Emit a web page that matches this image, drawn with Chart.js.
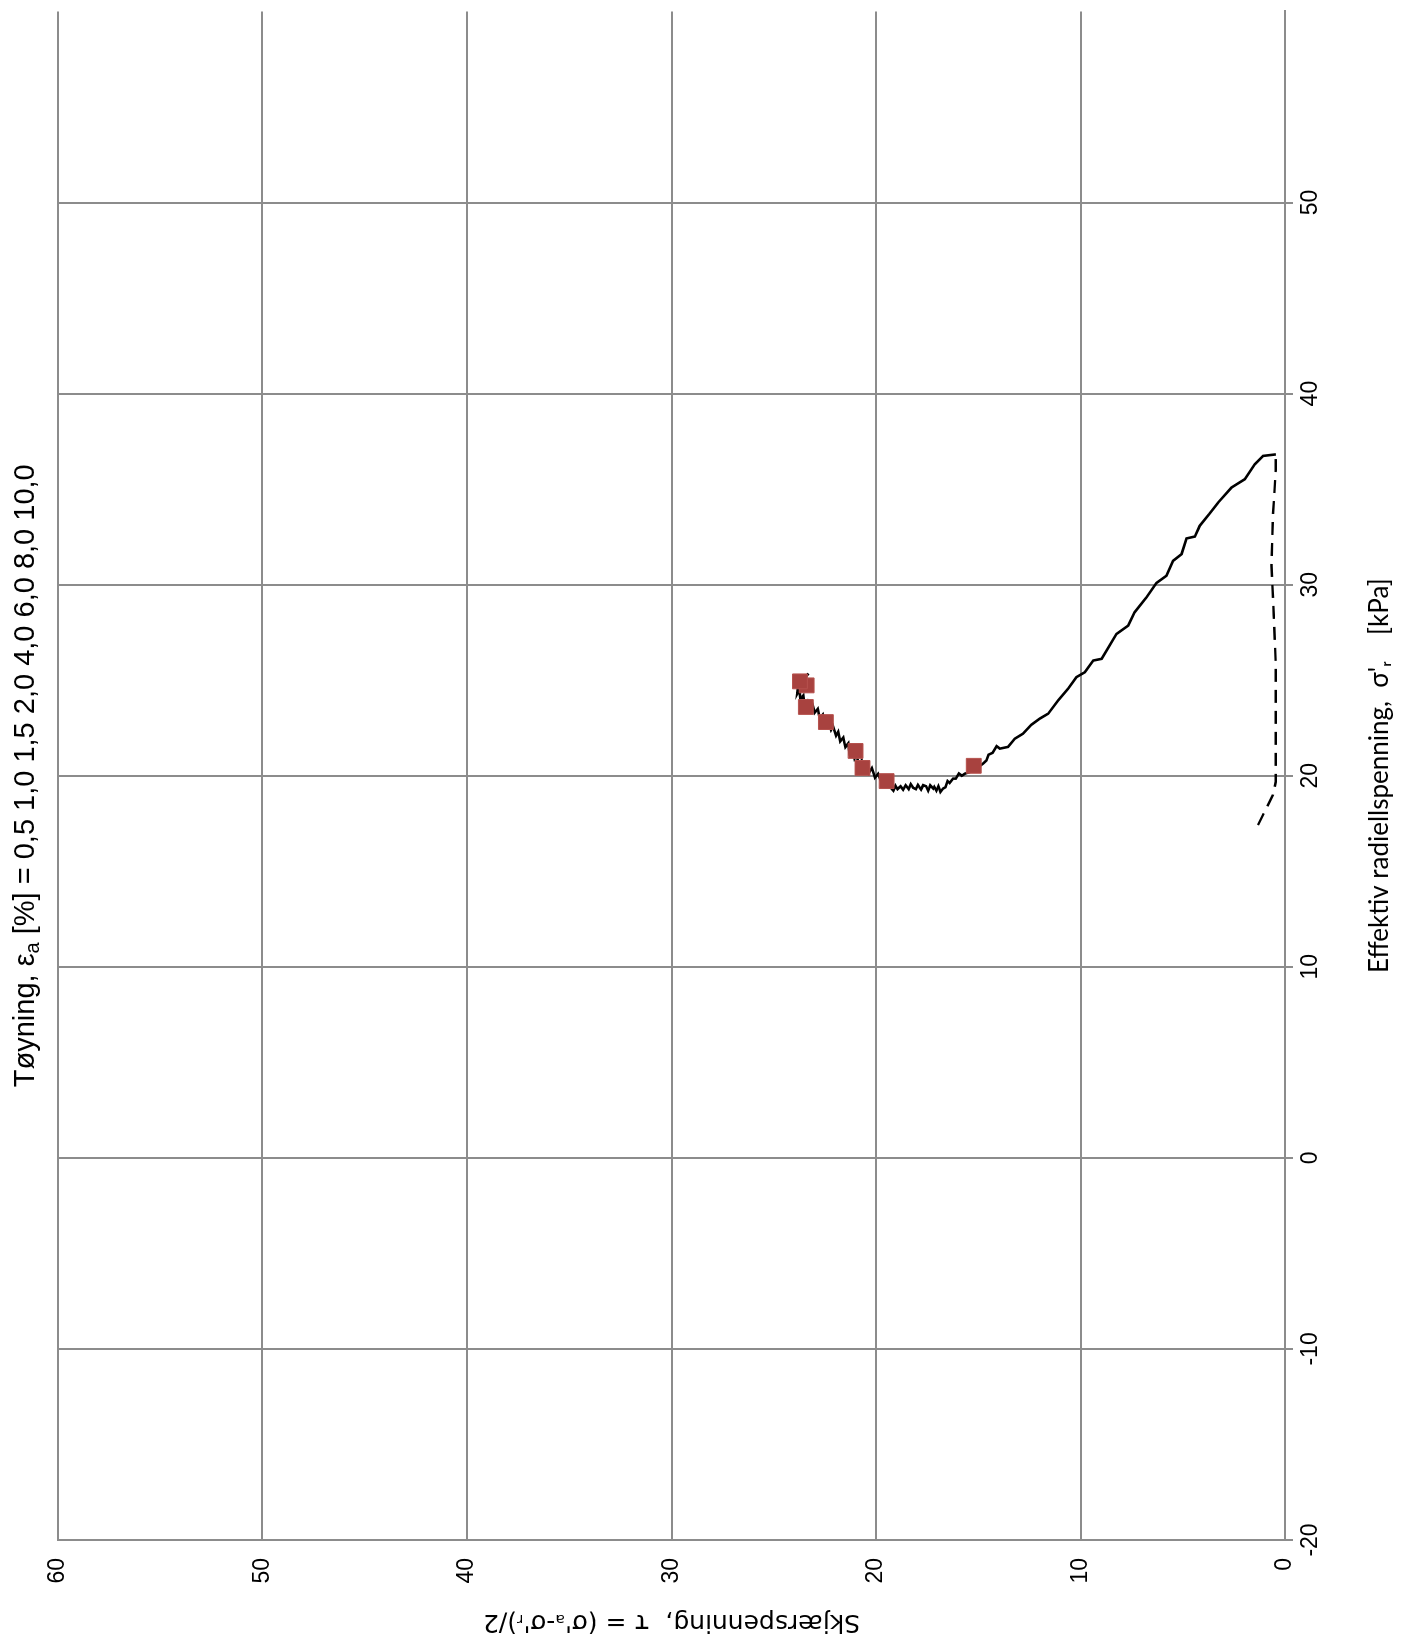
<!DOCTYPE html>
<html>
<head>
<meta charset="utf-8">
<script src="https://cdn.jsdelivr.net/npm/chart.js@4.4.0/dist/chart.umd.min.js"></script>
<style>
html, body { margin: 0; padding: 0; background: #fff; }
body { width: 1401px; height: 1638px; overflow: hidden; position: relative; }
/* the chart is drawn upright and then turned a quarter turn anticlockwise */
#wrap { position: absolute; left: 0; top: 0; width: 1638px; height: 1401px;
        transform-origin: 0 0; transform: translate(0px, 1638px) rotate(-90deg); }
</style>
</head>
<body>
<div id="wrap"><canvas id="myChart" width="1638" height="1401"></canvas></div>
<script>
// effective radial stress (x) and shear stress (y), kPa
var sigmaSolid = [36.82, 36.74, 36.3, 35.52, 35.08, 34.3, 33.7, 33.08, 32.52, 32.42, 31.6, 31.25, 30.47, 30.09,
    29.34, 28.56, 27.86, 27.42, 26.82, 26.12, 26.03, 25.42, 25.16, 24.55, 23.95, 23.25, 22.99, 22.67, 22.2, 21.94, 21.51,
    21.42, 21.55, 21.2, 21.1, 20.8, 20.64, 20.45, 20.55, 20.2, 20.11, 20.0, 20.12, 19.85, 19.85, 19.62, 19.72, 19.4, 19.33,
    19.15, 19.45, 19.22, 19.42, 19.33, 19.5, 19.22, 19.45, 19.51, 19.28, 19.52, 19.3, 19.37, 19.56, 19.3, 19.5, 19.27,
    19.45, 19.3, 19.48, 19.22, 19.4,
    19.5, 19.9, 19.6, 20.1, 19.9, 20.4, 20.15, 20.6, 20.35, 20.8, 20.6, 21.1, 20.9, 21.4, 21.2, 21.7, 21.5, 22.0, 21.8,
    22.3, 22.1, 22.6, 22.4, 22.9, 22.7, 23.2, 23.0, 23.5, 23.3, 23.7, 23.5, 23.9, 23.7, 24.2, 24.0, 24.5, 24.3, 24.8,
    24.6, 25.0, 25.1, 25.35];
var tauSolid = [0.45, 1.07, 1.48, 1.97, 2.62, 3.27, 3.7, 4.17, 4.41, 4.82, 5.06, 5.47, 5.8, 6.29,
    6.77, 7.35, 7.67, 8.24, 8.57, 8.97, 9.38, 9.79, 10.2, 10.61, 11.09, 11.58, 11.99, 12.4, 12.81, 13.21, 13.54,
    13.94, 14.1, 14.3, 14.5, 14.6, 14.76, 15.0, 15.15, 15.4, 15.65, 15.8, 15.95, 16.1, 16.23, 16.4, 16.5, 16.6, 16.72,
    16.85, 16.95, 17.05, 17.15, 17.2, 17.35, 17.45, 17.55, 17.69, 17.8, 17.95, 18.05, 18.18, 18.3, 18.4, 18.55, 18.67,
    18.8, 18.95, 19.05, 19.15, 19.3,
    19.35, 19.6, 19.7, 19.9, 20.05, 20.2, 20.35, 20.45, 20.6, 20.7, 20.85, 20.95, 21.05, 21.15, 21.3, 21.35, 21.5, 21.6, 21.75,
    21.85, 21.95, 22.1, 22.2, 22.35, 22.5, 22.6, 22.75, 22.85, 23.0, 23.1, 23.25, 23.35, 23.5, 23.55, 23.7, 23.75, 23.85, 23.8,
    23.9, 23.7, 23.5, 23.3];

var sigmaDashed = [17.42, 18.99, 19.68, 25.8, 28.4, 30.99, 33.6, 36.0, 36.82];
var tauDashed = [1.32, 0.59, 0.45, 0.45, 0.55, 0.66, 0.59, 0.45, 0.45];

// points at axial strain 0.5 ... 10 %
var strainLabels = ['0,5', '1,0', '1,5', '2,0', '4,0', '6,0', '8,0', '10,0'];
var sigmaMarkers = [20.52, 19.72, 20.41, 21.3, 22.81, 23.6, 24.73, 24.94];
var tauMarkers = [15.22, 19.48, 20.66, 21.0, 22.45, 23.43, 23.39, 23.72];

function toPoints(xs, ys) {
    return xs.map(function (x, i) { return { x: x, y: ys[i] }; });
}

var gridColor = '#8c8c8c';

// title with a subscript a, centred over the plot area
var titlePlugin = {
    id: 'topTitle',
    afterDraw: function (chart) {
        var c = chart.ctx, a = chart.chartArea;
        var parts = [['Tøyning, ε', 29, 0], ['a', 20, 5], [' [%] = ' + strainLabels.join(' '), 29, 0]];
        var total = 0;
        parts.forEach(function (p) { c.font = p[1] + 'px "Liberation Sans", Arial'; total += c.measureText(p[0]).width; });
        var x = (a.left + a.right) / 2 - total / 2;
        c.save();
        c.fillStyle = '#000';
        c.textBaseline = 'alphabetic';
        c.textAlign = 'left';
        parts.forEach(function (p) {
            c.font = p[1] + 'px "Liberation Sans", Arial';
            c.fillText(p[0], x, 34 + p[2]);
            x += c.measureText(p[0]).width;
        });
        c.restore();
    }
};

var element = document.getElementById('myChart').getContext('2d');

var chart = new Chart(element, {
    type: 'scatter',
    data: {
        datasets: [{
            label: 'Tøyning',
            data: toPoints(sigmaMarkers, tauMarkers),
            showLine: false,
            pointStyle: 'rect',
            pointRadius: 10.5,
            backgroundColor: '#a8423f',
            borderColor: '#b6524e',
            borderWidth: 1,
            order: 0
        }, {
            label: 'Skjærfase',
            data: toPoints(sigmaSolid, tauSolid),
            showLine: true,
            borderColor: '#000',
            borderWidth: 2.6,
            pointRadius: 0,
            order: 1
        }, {
            label: 'Konsolidering',
            data: toPoints(sigmaDashed, tauDashed),
            showLine: true,
            borderColor: '#000',
            borderWidth: 2.4,
            borderDash: [13, 8],
            pointRadius: 0,
            order: 2
        }]
    },
    options: {
        responsive: false,
        animation: false,
        layout: { padding: { top: 58, right: 8, left: 0, bottom: 0 } },
        plugins: { legend: { display: false }, tooltip: { enabled: false } },
        scales: {
            x: {
                type: 'linear', min: -20, max: 60,
                ticks: {
                    stepSize: 10, maxRotation: 0, padding: 4, color: '#000',
                    font: { family: '"Liberation Sans", Arial', size: 23 },
                    callback: function (v) { return v === 60 ? '' : v; }
                },
                grid: {
                    color: function (c) { return c.tick && c.tick.value === 60 ? 'rgba(0,0,0,0)' : gridColor; },
                    lineWidth: 2, tickLength: 8, drawTicks: true
                },
                border: { color: gridColor, width: 2 },
                title: {
                    display: true, text: 'Effektiv radiellspenning,  σ\'ᵣ    [kPa]', color: '#000',
                    font: { family: 'Lato', size: 26 }, padding: { top: 0, bottom: 6 }
                },
                afterFit: function (s) { s.height = 116; }
            },
            y: {
                type: 'linear', min: 0, max: 60,
                ticks: {
                    stepSize: 10, padding: 18, color: '#000',
                    font: { family: '"Liberation Sans", Arial', size: 23 }
                },
                grid: { color: gridColor, lineWidth: 2, drawTicks: false },
                border: { color: gridColor, width: 2 },
                title: {
                    display: true, text: 'Skjærspenning,  τ = (σ\'ₐ-σ\'ᵣ)/2', color: '#000',
                    font: { family: '"DejaVu Sans"', size: 25 }, padding: { top: 1, bottom: 0 }
                },
                afterFit: function (s) { s.width = 98; }
            }
        }
    },
    plugins: [titlePlugin]
});
</script>
</body>
</html>
